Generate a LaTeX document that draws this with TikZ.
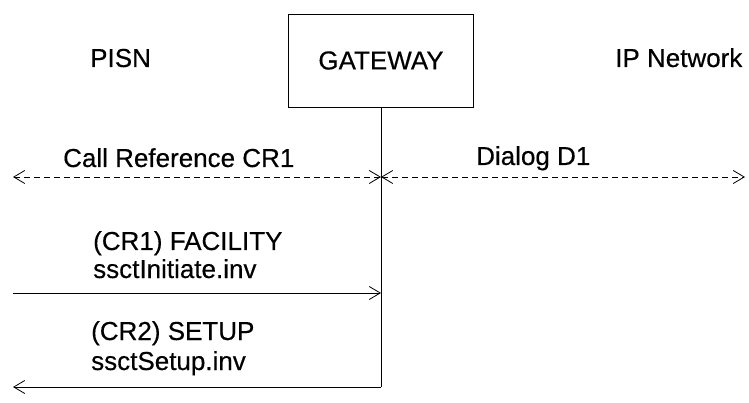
\documentclass[tikz,border=0pt]{standalone}
\usepackage{fontspec}
\setmainfont{Liberation Sans}[FakeBold=0.4]
\usetikzlibrary{arrows.meta}

\begin{document}
\begin{tikzpicture}[line cap=butt,line join=miter,>={Straight Barb[length=11pt,width=13pt]},x=1pt,y=-1pt,
    lbl/.style={anchor=base west,inner sep=0pt,font=\fontsize{26}{29}\selectfont},
    msg/.style={line width=0.8pt,->},
    dlg/.style={line width=0.8pt,<->,dash pattern=on 6pt off 4pt}]
                \useasboundingbox (0,0) rectangle (749,403);
                % entities
                \node[draw,line width=0.8pt,minimum width=185pt,minimum height=93pt,inner sep=0pt,font=\fontsize{26}{29}\selectfont] (gw) at (381,60.5) {GATEWAY};
                \node[lbl] (pisn) at (90,67) {PISN};
                \node[lbl] (ipnet) at (615,67) {IP Network};
                % end points on the left, the lifeline and the right
                \coordinate (cL) at (13,177);
                \coordinate (cM) at (381,177);
                \coordinate (cR) at (745,177);
                \coordinate (fL) at (13,293);
                \coordinate (fM) at (381,293);
                \coordinate (sL) at (13,387);
                \coordinate (sM) at (381,387);
                \draw [line width=0.8pt] (gw.south)-- (sM);
                \draw [dlg] (cL)-- (cM);
                \draw [dlg] (cM)-- (cR);
                \draw [msg] (fL)-- (fM);
                \draw [msg] (sM)-- (sL);
                % labels
                \node[lbl] (cref) at (63,167) {Call Reference CR1};
                \node[lbl] (dlgD) at (476,165) {Dialog D1};
                \node[lbl] (fac) at (93,250) {(CR1) FACILITY};
                \node[lbl] (facinv) at (93,278) {ssctInitiate.inv};
                \node[lbl] (setup) at (91,340) {(CR2) SETUP};
                \node[lbl] (setupinv) at (91,370) {ssctSetup.inv};
            \end{tikzpicture}
\end{document}
